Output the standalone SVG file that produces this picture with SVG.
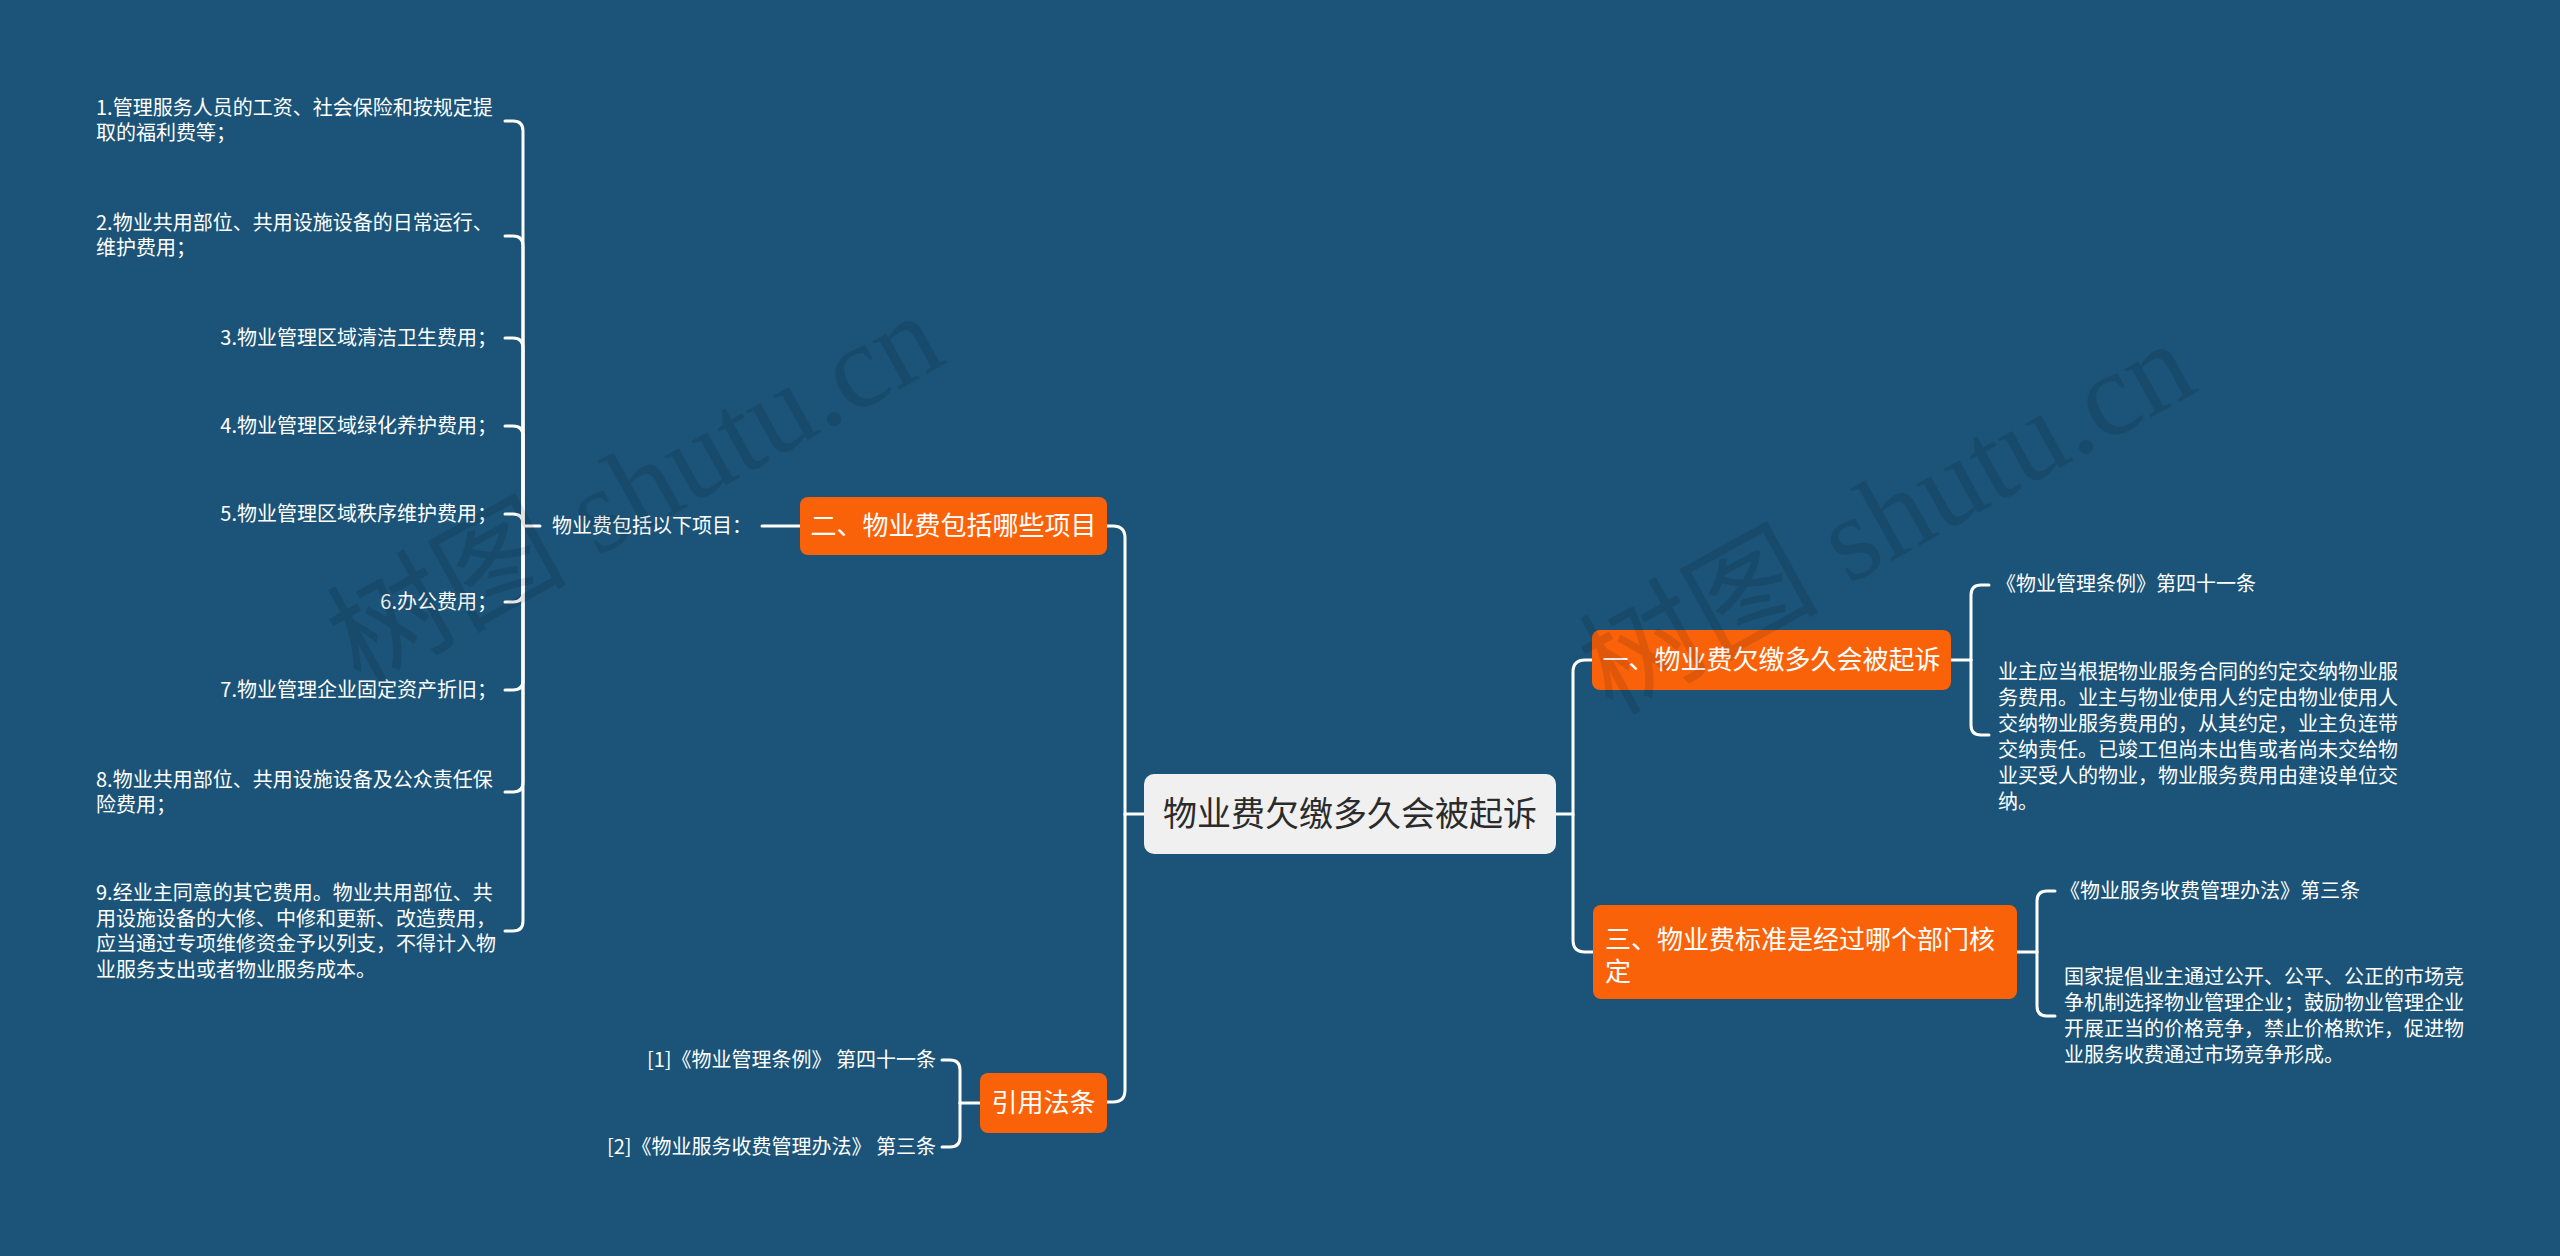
<svg xmlns="http://www.w3.org/2000/svg" width="2560" height="1256" viewBox="0 0 2560 1256">
<style>
.bg{fill:#1b5478}
.ln{fill:none;stroke:#ffffff;stroke-width:3;stroke-linecap:round}
.t{font-family:"Noto Sans CJK SC","Noto Sans",sans-serif;fill:#ffffff}
.s{font-size:20px}
.m{font-size:26px}
.ob{fill:#fa6209}
.c{fill:#f0f0f0}
.ct{font-family:"Noto Sans CJK SC","Noto Sans",sans-serif;font-size:34px;fill:#2b2b2b}
.wm{font-family:"Liberation Serif","Noto Sans CJK SC",serif;font-size:120px;fill:#000000;opacity:0.1}
</style>
<rect class="bg" x="0" y="0" width="2560" height="1256"/>

<g id="connectors">
  <path class="ln" d="M1144 814 H1125 V538 Q1125 526 1113 526 H1107"/>
  <path class="ln" d="M1125 814 V1090 Q1125 1102 1113 1102 H1107"/>
  <path class="ln" d="M1556 814 H1573 V672 Q1573 660 1585 660 H1593"/>
  <path class="ln" d="M1573 814 V940 Q1573 952 1585 952 H1593"/>
  <path class="ln" d="M800 526 H762"/>
  <path class="ln" d="M540 526 H523"/>
  <path class="ln" d="M523 526 V131 Q523 121 513 121 H505"/>
  <path class="ln" d="M523 526 V246 Q523 236 513 236 H505"/>
  <path class="ln" d="M523 526 V348 Q523 338 513 338 H505"/>
  <path class="ln" d="M523 526 V436 Q523 426 513 426 H505"/>
  <path class="ln" d="M523 526 V524 Q523 514 513 514 H505"/>
  <path class="ln" d="M523 526 V592 Q523 602 513 602 H505"/>
  <path class="ln" d="M523 526 V680 Q523 690 513 690 H505"/>
  <path class="ln" d="M523 526 V782 Q523 792 513 792 H505"/>
  <path class="ln" d="M523 526 V921 Q523 931 513 931 H505"/>
  <path class="ln" d="M980 1103 H960"/>
  <path class="ln" d="M960 1103 V1070 Q960 1060 950 1060 H942"/>
  <path class="ln" d="M960 1103 V1137 Q960 1147 950 1147 H942"/>
  <path class="ln" d="M1951 660 H1971"/>
  <path class="ln" d="M1971 660 V595 Q1971 585 1981 585 H1989"/>
  <path class="ln" d="M1971 660 V725 Q1971 735 1981 735 H1989"/>
  <path class="ln" d="M2017 952 H2037"/>
  <path class="ln" d="M2037 952 V901 Q2037 891 2047 891 H2055"/>
  <path class="ln" d="M2037 952 V1006 Q2037 1016 2047 1016 H2055"/>
</g>

<g id="root">
  <rect class="c" x="1144" y="774" width="412" height="80" rx="10"/>
  <text class="ct" x="1350" y="826" text-anchor="middle">物业费欠缴多久会被起诉</text>
</g>

<g id="branch-2">
  <rect class="ob" x="800" y="497" width="307" height="58" rx="8"/>
  <text class="t m" x="953.5" y="535" text-anchor="middle">二、物业费包括哪些项目</text>
</g>
<g id="branch-2-label">
  <text class="t s" x="552" y="533">物业费包括以下项目：</text>
</g>
<g id="item-1"><text class="t s" x="96" y="115">1.管理服务人员的工资、社会保险和按规定提</text><text class="t s" x="96" y="140">取的福利费等；</text></g>
<g id="item-2"><text class="t s" x="96" y="230">2.物业共用部位、共用设施设备的日常运行、</text><text class="t s" x="96" y="255">维护费用；</text></g>
<g id="item-3"><text class="t s" x="497" y="345" text-anchor="end">3.物业管理区域清洁卫生费用；</text></g>
<g id="item-4"><text class="t s" x="497" y="433" text-anchor="end">4.物业管理区域绿化养护费用；</text></g>
<g id="item-5"><text class="t s" x="497" y="521" text-anchor="end">5.物业管理区域秩序维护费用；</text></g>
<g id="item-6"><text class="t s" x="497" y="609" text-anchor="end">6.办公费用；</text></g>
<g id="item-7"><text class="t s" x="497" y="697" text-anchor="end">7.物业管理企业固定资产折旧；</text></g>
<g id="item-8"><text class="t s" x="96" y="787">8.物业共用部位、共用设施设备及公众责任保</text><text class="t s" x="96" y="812">险费用；</text></g>
<g id="item-9">
  <text class="t s" x="96" y="900">9.经业主同意的其它费用。物业共用部位、共</text>
  <text class="t s" x="96" y="926">用设施设备的大修、中修和更新、改造费用，</text>
  <text class="t s" x="96" y="951">应当通过专项维修资金予以列支，不得计入物</text>
  <text class="t s" x="96" y="977">业服务支出或者物业服务成本。</text>
</g>

<g id="branch-refs">
  <rect class="ob" x="980" y="1073" width="127" height="60" rx="8"/>
  <text class="t m" x="1043.5" y="1112" text-anchor="middle">引用法条</text>
</g>
<g id="ref-1"><text class="t s" x="936" y="1067" text-anchor="end">[1]《物业管理条例》 第四十一条</text></g>
<g id="ref-2"><text class="t s" x="936" y="1154" text-anchor="end">[2]《物业服务收费管理办法》 第三条</text></g>

<g id="branch-1">
  <rect class="ob" x="1592" y="630" width="359" height="60" rx="8"/>
  <text class="t m" x="1771.5" y="669" text-anchor="middle">一、物业费欠缴多久会被起诉</text>
</g>
<g id="b1-law"><text class="t s" x="1996" y="591">《物业管理条例》第四十一条</text></g>
<g id="b1-text">
  <text class="t s" x="1998" y="679">业主应当根据物业服务合同的约定交纳物业服</text>
  <text class="t s" x="1998" y="705">务费用。业主与物业使用人约定由物业使用人</text>
  <text class="t s" x="1998" y="731">交纳物业服务费用的，从其约定，业主负连带</text>
  <text class="t s" x="1998" y="757">交纳责任。已竣工但尚未出售或者尚未交给物</text>
  <text class="t s" x="1998" y="783">业买受人的物业，物业服务费用由建设单位交</text>
  <text class="t s" x="1998" y="809">纳。</text>
</g>

<g id="branch-3">
  <rect class="ob" x="1593" y="905" width="424" height="94" rx="8"/>
  <text class="t m" x="1605" y="949">三、物业费标准是经过哪个部门核</text>
  <text class="t m" x="1605" y="981">定</text>
</g>
<g id="b3-law"><text class="t s" x="2060" y="898">《物业服务收费管理办法》第三条</text></g>
<g id="b3-text">
  <text class="t s" x="2064" y="984">国家提倡业主通过公开、公平、公正的市场竞</text>
  <text class="t s" x="2064" y="1010">争机制选择物业管理企业；鼓励物业管理企业</text>
  <text class="t s" x="2064" y="1036">开展正当的价格竞争，禁止价格欺诈，促进物</text>
  <text class="t s" x="2064" y="1062">业服务收费通过市场竞争形成。</text>
</g>

<g id="watermark">
  <text class="wm" transform="translate(360 688) rotate(-29)">树图 shutu.cn</text>
  <text class="wm" transform="translate(1612 716) rotate(-29)">树图 shutu.cn</text>
</g>
</svg>
